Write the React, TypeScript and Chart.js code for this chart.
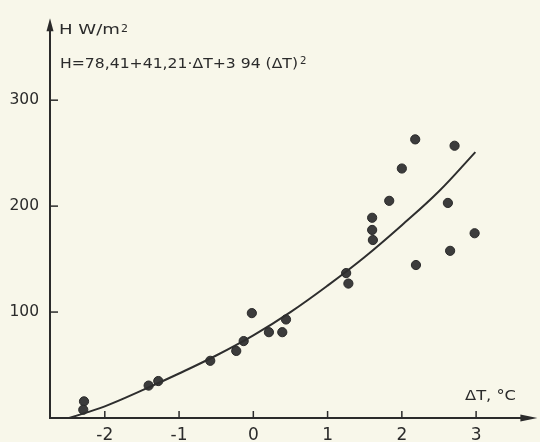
import { useEffect, useRef } from "react";
import { Chart, registerables } from "chart.js";

Chart.register(...registerables);

// Measured points (ΔT in °C, H in W/m²)
const pointDT = [-2.28, -2.29, -1.41, -1.28, -0.58, -0.23, -0.13, -0.02, 0.21, 0.39, 0.44, 1.25, 1.28, 1.6, 1.6, 1.61, 1.83, 2.0, 2.18, 2.19, 2.62, 2.65, 2.71, 2.98];
const pointH = [15.7, 7.8, 30.6, 34.9, 54, 63.3, 72.6, 99, 81, 81, 93, 136.8, 126.9, 189, 177.5, 168, 205, 235.5, 263, 144.4, 203, 157.8, 257, 174.4];

// Fitted curve as drawn in the picture
const curveDT = [-2.48, -2.0, -1.5, -1.0, -0.5, 0.0, 0.5, 1.0, 1.5, 2.0, 2.5, 2.99];
const curveH = [0, 11, 26, 42, 59, 78, 100, 125, 152, 182, 214, 251];

// Axis ticks
const xTickValues = [-2, -1, 0, 1, 2, 3];
const yTickValues = [100, 200, 300];

const yTitleMain = "H W/m";
const yTitleSup = "2";
const formulaMain = "H=78,41+41,21·ΔT+3 94 (ΔT)";
const formulaSup = "2";
const xTitle = "ΔT, °C";

const X_MIN = -2.738;
const X_MAX = 3.785;
const Y_MIN = 0;
const Y_MAX = 375.4;

const BG = "#f8f7ea";
const INK = "#2b2b2b";
const FONT = "'DejaVu Sans'";

function drawFit(ctx: CanvasRenderingContext2D, text: string, x: number, y: number, size: number, width: number) {
  ctx.save();
  ctx.font = `${size}px ${FONT}`;
  ctx.textBaseline = "alphabetic";
  ctx.textAlign = "left";
  const m = ctx.measureText(text).width;
  ctx.translate(x, y);
  ctx.scale(width / m, 1);
  ctx.fillText(text, 0, 0);
  ctx.restore();
}

export default function App() {
  const ref = useRef<HTMLCanvasElement>(null);

  useEffect(() => {
    document.body.style.margin = "0";
    const canvas = ref.current;
    if (!canvas) return;

    const bgPlugin = {
      id: "bgFill",
      beforeDraw(c: any) {
        const ctx = c.ctx;
        ctx.save();
        ctx.fillStyle = BG;
        ctx.fillRect(0, 0, c.width, c.height);
        ctx.restore();
      },
    };

    const axesPlugin = {
      id: "handAxes",
      afterDraw(c: any) {
        const ctx: CanvasRenderingContext2D = c.ctx;
        const xs = c.scales.x;
        const ys = c.scales.y;
        const { left, right, top, bottom } = c.chartArea;
        ctx.save();
        ctx.strokeStyle = INK;
        ctx.fillStyle = INK;
        ctx.lineWidth = 2;
        // y axis
        ctx.beginPath();
        ctx.moveTo(left, bottom + 1);
        ctx.lineTo(left, top + 6);
        ctx.stroke();
        ctx.beginPath();
        ctx.moveTo(left, top - 2);
        ctx.lineTo(left - 3.5, top + 11);
        ctx.lineTo(left + 3.5, top + 11);
        ctx.closePath();
        ctx.fill();
        // x axis
        ctx.beginPath();
        ctx.moveTo(left - 1, bottom);
        ctx.lineTo(right - 6, bottom);
        ctx.stroke();
        ctx.beginPath();
        ctx.moveTo(right + 3, bottom);
        ctx.lineTo(right - 14, bottom - 3.5);
        ctx.lineTo(right - 14, bottom + 3.5);
        ctx.closePath();
        ctx.fill();
        // tick marks
        ctx.lineWidth = 1.5;
        yTickValues.forEach((v) => {
          const py = ys.getPixelForValue(v);
          ctx.beginPath();
          ctx.moveTo(left, py);
          ctx.lineTo(left + 8, py);
          ctx.stroke();
        });
        xTickValues.forEach((v) => {
          const px = xs.getPixelForValue(v);
          ctx.beginPath();
          ctx.moveTo(px, bottom);
          ctx.lineTo(px, bottom - 7);
          ctx.stroke();
        });
        // texts
        drawFit(ctx, yTitleMain, 59, 34.3, 13.5, 61);
        drawFit(ctx, yTitleSup, 121, 31.5, 10, 7);
        drawFit(ctx, formulaMain, 60, 67.7, 14.5, 238);
        drawFit(ctx, formulaSup, 300, 64, 10, 6.5);
        drawFit(ctx, xTitle, 465, 400, 13.5, 51);
        ctx.restore();
      },
    };

    const points = pointDT.map((x, i) => ({ x, y: pointH[i] }));
    const curve = curveDT.map((x, i) => ({ x, y: curveH[i] }));

    const chart = new Chart(canvas, {
      type: "scatter",
      data: {
        datasets: [
          {
            type: "line",
            data: curve,
            borderColor: "#2e2e2e",
            borderWidth: 2,
            pointRadius: 0,
            tension: 0.4,
            fill: false,
          } as any,
          {
            data: points,
            pointRadius: 4.6,
            pointBackgroundColor: "#3c3c3c",
            pointBorderColor: "#2a2a2a",
            pointBorderWidth: 1,
          },
        ],
      },
      options: {
        responsive: false,
        animation: false,
        devicePixelRatio: 1,
        layout: { padding: { top: 12, right: 4, left: 0, bottom: 0 } },
        plugins: { legend: { display: false }, tooltip: { enabled: false } },
        scales: {
          x: {
            type: "linear",
            min: X_MIN,
            max: X_MAX,
            afterBuildTicks: (s: any) => {
              s.ticks = xTickValues.map((value) => ({ value }));
            },
            afterFit: (s: any) => {
              s.height = 24;
            },
            ticks: {
              font: { family: FONT, size: 17 },
              color: INK,
              padding: 7,
              maxRotation: 0,
              autoSkip: false,
              callback: (v: any) => String(v),
            },
            grid: { display: false, drawTicks: false },
            border: { display: false },
          },
          y: {
            type: "linear",
            min: Y_MIN,
            max: Y_MAX,
            afterBuildTicks: (s: any) => {
              s.ticks = yTickValues.map((value) => ({ value }));
            },
            afterFit: (s: any) => {
              s.width = 50;
            },
            ticks: {
              font: { family: FONT, size: 15.5 },
              color: INK,
              padding: 11,
              autoSkip: false,
              callback: (v: any) => String(v),
            },
            grid: { display: false, drawTicks: false },
            border: { display: false },
          },
        },
      },
      plugins: [bgPlugin, axesPlugin],
    });

    return () => chart.destroy();
  }, []);

  return (
    <div style={{ width: 540, height: 442, overflow: "hidden" }}>
      <canvas ref={ref} width={540} height={442} style={{ display: "block" }} />
    </div>
  );
}
